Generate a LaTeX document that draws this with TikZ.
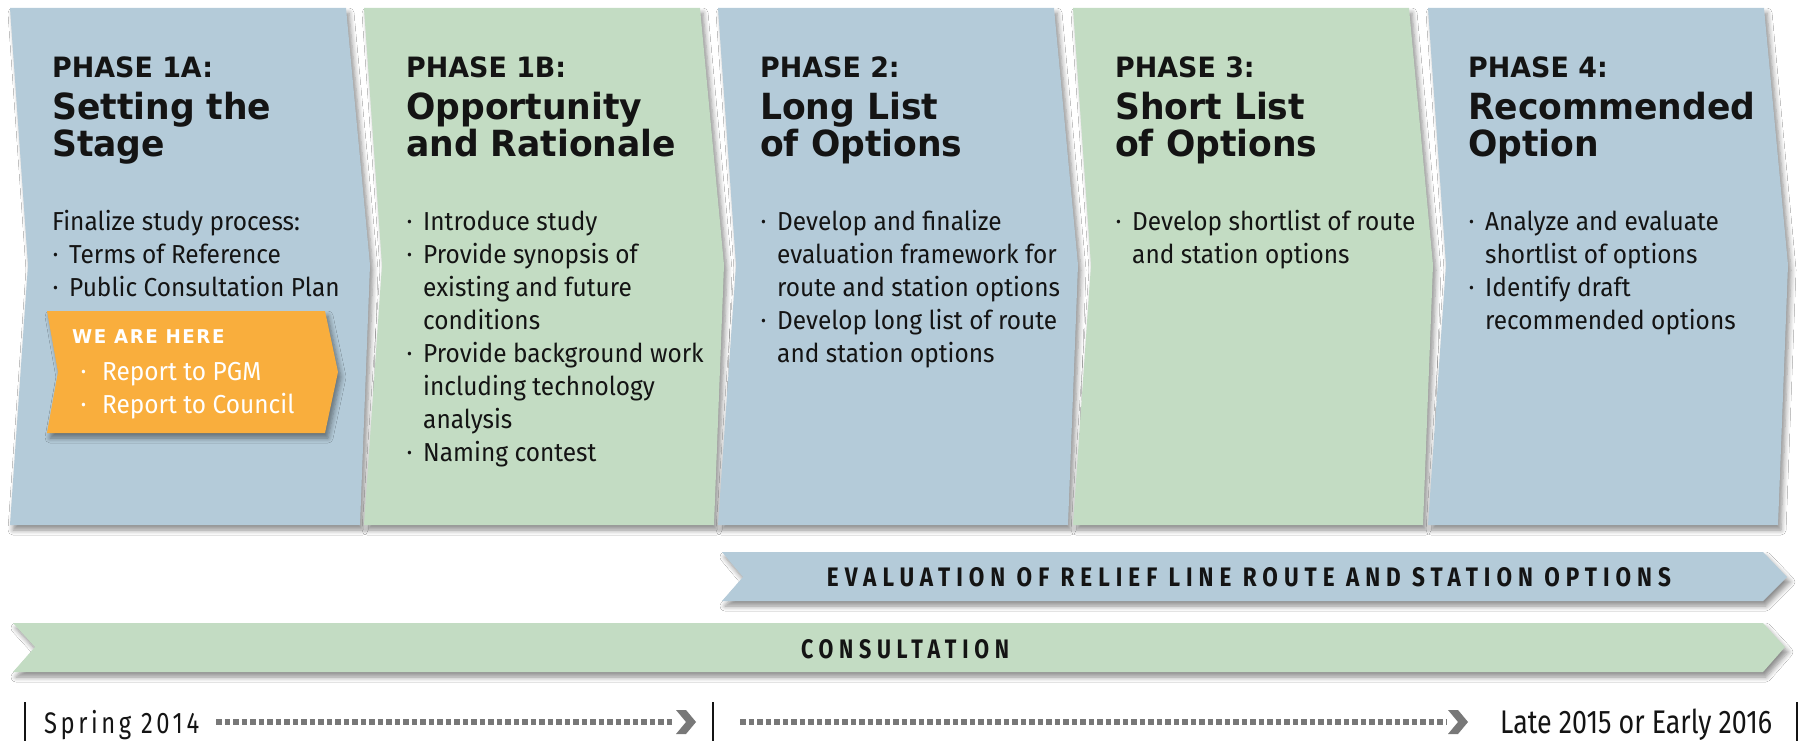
\documentclass[tikz,border=0pt]{standalone}
\usepackage{fontspec}
\setmainfont{Fira Sans}
\newfontfamily\headfont{DejaVu Sans}[FakeStretch=0.96]
\newfontfamily\bodyfont{Fira Sans}[FakeStretch=0.94]
\newfontfamily\bandfont{Fira Sans}[FakeStretch=0.75,LetterSpace=20]
\newfontfamily\timefont{Fira Sans}[FakeStretch=0.8,LetterSpace=12]
\newfontfamily\latefont{Fira Sans}[FakeStretch=0.82]
\usetikzlibrary{shadows.blur}
\definecolor{pblue}{HTML}{B4CBD9}
\definecolor{pgreen}{HTML}{C3DCC3}
\definecolor{porange}{HTML}{F9AE3D}
\definecolor{ink}{HTML}{141414}
\definecolor{dotgray}{HTML}{787878}
\newcommand\bDot{\raisebox{2.5pt}{\fontsize{16}{16}\selectfont •}}
\newcommand\bIt{\makebox[17pt][l]{\hspace{1pt}\bDot}}
\newcommand\bInd{\hspace*{17pt}}
\begin{document}
\begin{tikzpicture}[x=1pt,y=-1pt,
  phshadow/.style={blur shadow={shadow xshift=3pt,shadow yshift=-5pt,shadow blur radius=5pt,shadow blur steps=6,shadow opacity=45}},
  phaselabel/.style={anchor=base west,inner sep=0pt,text=ink,font=\headfont\bfseries\fontsize{28}{33}\selectfont},
  phasetitle/.style={anchor=base west,inner sep=0pt,align=left,text=ink,font=\headfont\bfseries\fontsize{36}{37}\selectfont},
  bodytext/.style={anchor=base west,inner sep=0pt,align=left,text=ink,font=\bodyfont\fontsize{26}{33}\selectfont},
  herebody/.style={anchor=base west,inner sep=0pt,align=left,text=white,font=\bodyfont\fontsize{26}{33}\selectfont},
  bandtext/.style={anchor=base,inner sep=0pt,text=ink,font=\bandfont\bfseries\fontsize{27}{30}\selectfont},
  timetext/.style={anchor=base west,inner sep=0pt,text=ink},
  tickbar/.style={line width=2.6pt,ink},
  dotline/.style={line width=6pt,dotgray,dash pattern=on 5.5pt off 3pt},
  chev/.style={fill=dotgray}
]
\useasboundingbox (0,0) rectangle (1802,741);
\fill[white] (0,0) rectangle (1802,741);

% phase chevrons
\foreach \xl/\col in {10/pblue,364/pgreen,718/pblue,1073/pgreen,1428/pblue}{
  \fill[\col,phshadow] (\xl,8) -- (\xl+336,8) -- (\xl+360,265) -- (\xl+350,525) -- (\xl,525) -- (\xl+18,265) -- cycle;
}

% (multi-line nodes are anchored at the baseline of their last line)
% Phase 1A
\node[phaselabel] (p1al) at (52,78) {PHASE 1A:};
\node[phasetitle] (p1at) at (52,157) {Setting the\\Stage};
\node[bodytext] (p1ab) at (52,296) {Finalize study process:\\\bIt Terms of Reference\\\bIt Public Consultation Plan};
% we are here
\fill[porange,phshadow] (47,311) -- (325,311) -- (338,372) -- (325,433) -- (47,433) -- (58,372) -- cycle;
\node[anchor=base west,inner sep=0pt,text=white,font=\headfont\bfseries\fontsize{19}{20}\addfontfeature{LetterSpace=8}\selectfont] (here) at (72,343) {WE ARE HERE};
\node[herebody] (hereb) at (80,413) {\makebox[22pt][l]{\hspace{1pt}\bDot}Report to PGM\\\makebox[22pt][l]{\hspace{1pt}\bDot}Report to Council};

% Phase 1B
\node[phaselabel] (p1bl) at (406,78) {PHASE 1B:};
\node[phasetitle] (p1bt) at (406,157) {Opportunity\\and Rationale};
\node[bodytext] (p1bb) at (406,461) {\bIt Introduce study\\\bIt Provide synopsis of\\\bInd existing and future\\\bInd conditions\\\bIt Provide background work\\\bInd including technology\\\bInd analysis\\\bIt Naming contest};

% Phase 2
\node[phaselabel] (p2l) at (760,78) {PHASE 2:};
\node[phasetitle] (p2t) at (760,157) {Long List\\of Options};
\node[bodytext] (p2b) at (760,362) {\bIt Develop and finalize\\\bInd evaluation framework for\\\bInd route and station options\\\bIt Develop long list of route\\\bInd and station options};

% Phase 3
\node[phaselabel] (p3l) at (1115,78) {PHASE 3:};
\node[phasetitle] (p3t) at (1115,157) {Short List\\of Options};
\node[bodytext] (p3b) at (1115,263) {\bIt Develop shortlist of route\\\bInd and station options};

% Phase 4
\node[phaselabel] (p4l) at (1468,78) {PHASE 4:};
\node[phasetitle] (p4t) at (1468,157) {Recommended\\Option};
\node[bodytext] (p4b) at (1468,329) {\bIt Analyze and evaluate\\\bInd shortlist of options\\\bIt Identify draft\\\bInd recommended options};

% bands
\fill[pblue,phshadow] (722,552) -- (1763,552) -- (1787,577) -- (1763,601) -- (722,601) -- (743,577) -- cycle;
\node[bandtext] (evalt) at (1249,586) {\resizebox{844pt}{19pt}{EVALUATION OF RELIEF LINE ROUTE AND STATION OPTIONS}};
\fill[pgreen,phshadow] (13,623) -- (1763,623) -- (1785,647) -- (1763,672) -- (13,672) -- (35,647) -- cycle;
\node[bandtext] (const) at (905,658) {\resizebox{208pt}{19pt}{CONSULTATION}};

% timeline
\coordinate (barL1) at (25,702); \coordinate (barL2) at (25,741);
\coordinate (barM1) at (713,702); \coordinate (barM2) at (713,741);
\coordinate (barR1) at (1797,702); \coordinate (barR2) at (1797,741);
\draw[tickbar] (barL1) -- (barL2);
\draw[tickbar] (barM1) -- (barM2);
\draw[tickbar] (barR1) -- (barR2);
\node[timetext] (spring) at (44,733) {\resizebox{155pt}{!}{\timefont\fontsize{29}{30}\selectfont Spring 2014}};
\node[timetext] (late) at (1500,733) {\resizebox{272pt}{!}{\latefont\fontsize{33}{34}\selectfont Late 2015 or Early 2016}};
\coordinate (d1s) at (216,722); \coordinate (d1e) at (674,722);
\coordinate (d2s) at (740,722); \coordinate (d2e) at (1446,722);
\draw[dotline] (d1s) -- (d1e);
\draw[dotline] (d2s) -- (d2e);
\fill[chev] (676,710) -- (686,710) -- (696,722) -- (686,734) -- (676,734) -- (686,722) -- cycle;
\fill[chev] (1448,710) -- (1458,710) -- (1468,722) -- (1458,734) -- (1448,734) -- (1458,722) -- cycle;
\end{tikzpicture}
\end{document}
